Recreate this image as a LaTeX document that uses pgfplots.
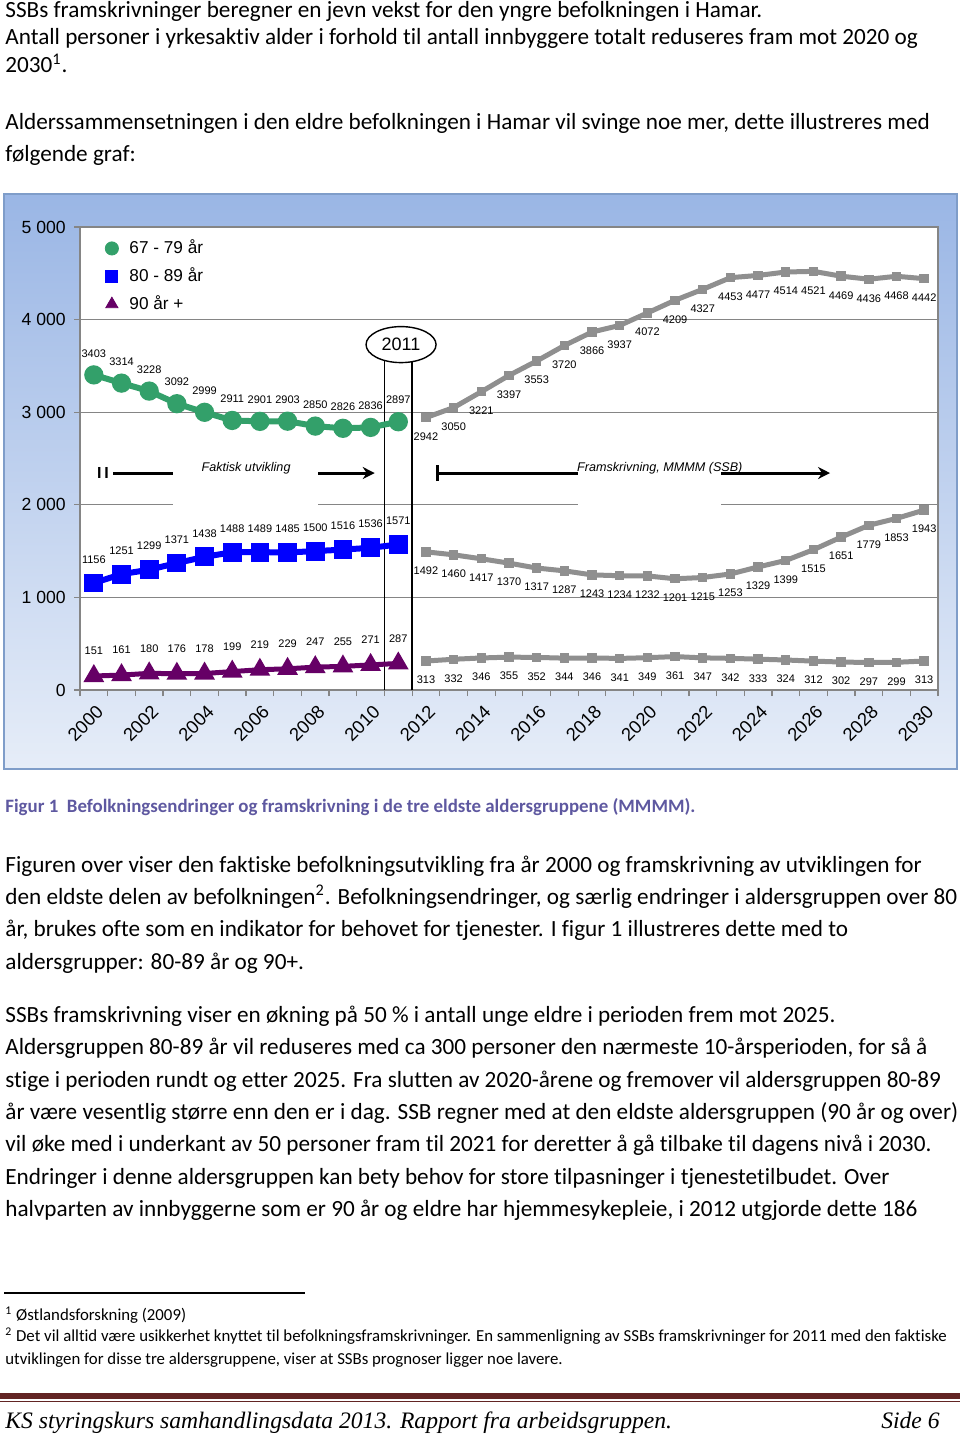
\documentclass[border=0pt]{standalone}
\usepackage{pgfplots}
\pgfplotsset{compat=1.18}
\usepackage{fontspec}
\setmainfont{Carlito}[Ligatures=NoCommon]
\newfontfamily\arial{Liberation Sans}
\newfontfamily\footserif{Liberation Serif}
\usetikzlibrary{arrows.meta,shapes.geometric}
\definecolor{ggreen}{HTML}{33A06A}
\definecolor{gpurple}{HTML}{660066}
\definecolor{ggray}{HTML}{8F8F8F}
\definecolor{capcol}{HTML}{5E58A0}
\definecolor{footred}{HTML}{622423}
\definecolor{bgtop}{HTML}{9AB6E5}
\definecolor{bgbot}{HTML}{E6EDF8}
\definecolor{bgborder}{HTML}{7F9DC9}
\definecolor{gridc}{HTML}{858585}
\begin{document}
\begin{tikzpicture}
\begin{scope}[x=0.5pt,y=-0.5pt]
\path (0,0) rectangle (960,1434);
\tikzset{body/.style={anchor=base west, inner sep=0pt, font=\fontsize{11.6}{13}\selectfont},
foot/.style={anchor=base west, inner sep=0pt, font=\fontsize{8.4}{9}\selectfont}}
\node[body] at (5,18) {SSBs framskrivninger beregner en jevn vekst for den yngre befolkningen i Hamar.};
\node[body] at (5,45) {Antall personer i yrkesaktiv alder i forhold til antall innbyggere totalt reduseres fram mot 2020 og};
\node[body] at (5,73) {2030\textsuperscript{1}.};
\node[body] at (5,130) {Alderssammensetningen i den eldre befolkningen i Hamar vil svinge noe mer, dette illustreres med};
\node[body] at (5,162) {følgende graf:};
% chart box
\shade[top color=bgtop, bottom color=bgbot] (4,194) rectangle (957,769);
\draw[bgborder, line width=0.8pt] (4,194) rectangle (957,769);
% caption
\node[anchor=base west, inner sep=0pt, font=\fontsize{9.45}{11}\selectfont\bfseries, text=capcol] at (5,812) {Figur 1\ \ Befolkningsendringer og framskrivning i de tre eldste aldersgruppene (MMMM).};
\node[body] at (5,872) {Figuren over viser den faktiske befolkningsutvikling fra år 2000 og framskrivning av utviklingen for};
\node[body] at (5,904) {den eldste delen av befolkningen\textsuperscript{2}. Befolkningsendringer, og særlig endringer i aldersgruppen over 80};
\node[body] at (5,936) {år, brukes ofte som en indikator for behovet for tjenester. I figur 1 illustreres dette med to};
\node[body] at (5,969) {aldersgrupper: 80-89 år og 90+.};
\node[body] at (5,1022) {SSBs framskrivning viser en økning på 50 \% i antall unge eldre i perioden frem mot 2025.};
\node[body] at (5,1054) {Aldersgruppen 80-89 år vil reduseres med ca 300 personer den nærmeste 10-årsperioden, for så å};
\node[body] at (5,1087) {stige i perioden rundt og etter 2025. Fra slutten av 2020-årene og fremover vil aldersgruppen 80-89};
\node[body] at (5,1119) {år være vesentlig større enn den er i dag. SSB regner med at den eldste aldersgruppen (90 år og over)};
\node[body] at (5,1151) {vil øke med i underkant av 50 personer fram til 2021 for deretter å gå tilbake til dagens nivå i 2030.};
\node[body] at (5,1184) {Endringer i denne aldersgruppen kan bety behov for store tilpasninger i tjenestetilbudet. Over};
\node[body] at (5,1216) {halvparten av innbyggerne som er 90 år og eldre har hjemmesykepleie, i 2012 utgjorde dette 186};
% footnotes
\draw[line width=0.7pt] (4,1293) -- (305,1293);
\node[foot] at (5,1320) {\textsuperscript{1} Østlandsforskning (2009)};
\node[foot] at (5,1341) {\textsuperscript{2} Det vil alltid være usikkerhet knyttet til befolkningsframskrivninger. En sammenligning av SSBs framskrivninger for 2011 med den faktiske};
\node[foot] at (5,1364) {utviklingen for disse tre aldersgruppene, viser at SSBs prognoser ligger noe lavere.};
% footer
\fill[footred] (0,1393) rectangle (960,1399);
\fill[footred] (0,1400.5) rectangle (960,1402);
\node[anchor=base west, inner sep=0pt, font=\fontsize{11.8}{14}\footserif\itshape] at (5,1428) {KS styringskurs samhandlingsdata 2013. Rapport fra arbeidsgruppen.};
\node[anchor=base east, inner sep=0pt, font=\fontsize{11.8}{14}\footserif\itshape] at (940,1428) {Side 6};
\end{scope}
\begin{axis}[
  at={(40pt,-345pt)}, anchor=south west,
  scale only axis, width=429pt, height=231.5pt,
  xmin=1999.5, xmax=2030.5, ymin=0, ymax=5000,
  clip=false,
  axis background/.style={fill=white},
  axis line style={gridc, line width=0.6pt},
  ytick={0,1000,...,5000},
  yticklabels={0,1 000,2 000,3 000,4 000,5 000},
  yticklabel style={font=\fontsize{8.8}{10}\arial, xshift=-0.6pt},
  ymajorgrids, grid style={gridc, line width=0.5pt},
  xtick={1999.5,2000.5,...,2030.5}, xticklabels={},
  extra x ticks={2000,2002,...,2030},
  extra x tick labels={2000,2002,2004,2006,2008,2010,2012,2014,2016,2018,2020,2022,2024,2026,2028,2030},
  extra x tick style={major tick length=0pt, grid=none, tick label style={rotate=45, anchor=north east, font=\fontsize{9.2}{10}\arial, yshift=-2pt, xshift=-1pt}},
  xtick pos=bottom, ytick pos=left,
  tick align=outside, major tick length=3pt,
  tick style={gridc, line width=0.6pt},
  /pgf/number format/.cd, 1000 sep={}, assume math mode=true, /pgfplots/.cd,
  legend style={at={(0.022,0.99)}, anchor=north west, draw=none, fill=none, font=\fontsize{8.6}{10}\arial, row sep=1.5pt},
  legend cell align=left,
]
\addlegendimage{only marks, mark=*, color=ggreen, mark size=3.3pt}
\addlegendentry{\hspace{3.5pt}67 - 79 år}
\addlegendimage{only marks, mark=square*, color=blue, mark size=3pt}
\addlegendentry{\hspace{3.5pt}80 - 89 år}
\addlegendimage{only marks, mark=triangle*, color=gpurple, mark size=3.5pt}
\addlegendentry{\hspace{3.5pt}90 år +}
% vertical lines and ellipse
\draw[black, line width=0.8pt] (axis cs:2010.5,0) -- (axis cs:2010.5,3590);
\draw[black, line width=0.8pt] (axis cs:2011.5,0) -- (axis cs:2011.5,3590);
\node[ellipse, draw=black, line width=0.7pt, fill=white, minimum width=35pt, minimum height=18pt, inner sep=0pt, font=\fontsize{9}{10}\arial] at (axis cs:2011.1,3730) {2011};
% arrows
\draw[black, line width=1.5pt, -{Stealth[length=6pt,width=6pt]}] (axis cs:2000.7,2343) -- (axis cs:2010.15,2343);
\node[font=\fontsize{8}{9}\arial\bfseries] at (axis cs:2000.33,2343) {I\,I};
\fill[white] (axis cs:2002.85,2640) rectangle (axis cs:2008.1,1950);
\node[font=\fontsize{6.3}{7}\arial\itshape] at (axis cs:2005.5,2400) {Faktisk utvikling};
\draw[black, line width=1.5pt, {Bar[width=8pt]}-{Stealth[length=6pt,width=6pt]}] (axis cs:2012.36,2343) -- (axis cs:2026.6,2343);
\fill[white] (axis cs:2017.5,2640) rectangle (axis cs:2022.65,1950);
\node[font=\fontsize{6.3}{7}\arial\itshape] at (axis cs:2020.45,2400) {Framskrivning, MMMM (SSB)};
% 67-79
\addplot[forget plot, color=ggreen, line width=3pt, mark=*, mark size=3.3pt,
  nodes near coords, every node near coord/.append style={font=\fontsize{5.5}{6}\arial, color=black, anchor=south, yshift=4pt}]
coordinates {(2000,3403) (2001,3314) (2002,3228) (2003,3092) (2004,2999) (2005,2911) (2006,2901) (2007,2903) (2008,2850) (2009,2826) (2010,2836) (2011,2897)};
\addplot[forget plot, color=ggray, line width=2.5pt, mark=square*, mark size=1.1pt,
  nodes near coords, every node near coord/.append style={font=\fontsize{5.5}{6}\arial, color=black, anchor=north, yshift=-3pt}]
coordinates {(2012,2942) (2013,3050) (2014,3221) (2015,3397) (2016,3553) (2017,3720) (2018,3866) (2019,3937) (2020,4072) (2021,4209) (2022,4327) (2023,4453) (2024,4477) (2025,4514) (2026,4521) (2027,4469) (2028,4436) (2029,4468) (2030,4442)};
% 80-89
\addplot[forget plot, color=blue, line width=3pt, mark=square*, mark size=3.2pt,
  nodes near coords, every node near coord/.append style={font=\fontsize{5.5}{6}\arial, color=black, anchor=south, yshift=5pt}]
coordinates {(2000,1156) (2001,1251) (2002,1299) (2003,1371) (2004,1438) (2005,1488) (2006,1489) (2007,1485) (2008,1500) (2009,1516) (2010,1536) (2011,1571)};
\addplot[forget plot, color=ggray, line width=2.5pt, mark=square*, mark size=1.1pt,
  nodes near coords, every node near coord/.append style={font=\fontsize{5.5}{6}\arial, color=black, anchor=north, yshift=-3pt}]
coordinates {(2012,1492) (2013,1460) (2014,1417) (2015,1370) (2016,1317) (2017,1287) (2018,1243) (2019,1234) (2020,1232) (2021,1201) (2022,1215) (2023,1253) (2024,1329) (2025,1399) (2026,1515) (2027,1651) (2028,1779) (2029,1853) (2030,1943)};
% 90+
\addplot[forget plot, color=gpurple, line width=2.5pt, mark=triangle*, mark size=3.5pt,
  nodes near coords, every node near coord/.append style={font=\fontsize{5.5}{6}\arial, color=black, anchor=south, yshift=6pt}]
coordinates {(2000,151) (2001,161) (2002,180) (2003,176) (2004,178) (2005,199) (2006,219) (2007,229) (2008,247) (2009,255) (2010,271) (2011,287)};
\addplot[forget plot, color=ggray, line width=2.5pt, mark=square*, mark size=1.1pt,
  nodes near coords, every node near coord/.append style={font=\fontsize{5.5}{6}\arial, color=black, anchor=north, yshift=-3pt}]
coordinates {(2012,313) (2013,332) (2014,346) (2015,355) (2016,352) (2017,344) (2018,346) (2019,341) (2020,349) (2021,361) (2022,347) (2023,342) (2024,333) (2025,324) (2026,312) (2027,302) (2028,297) (2029,299) (2030,313)};
\end{axis}
\end{tikzpicture}
\end{document}
